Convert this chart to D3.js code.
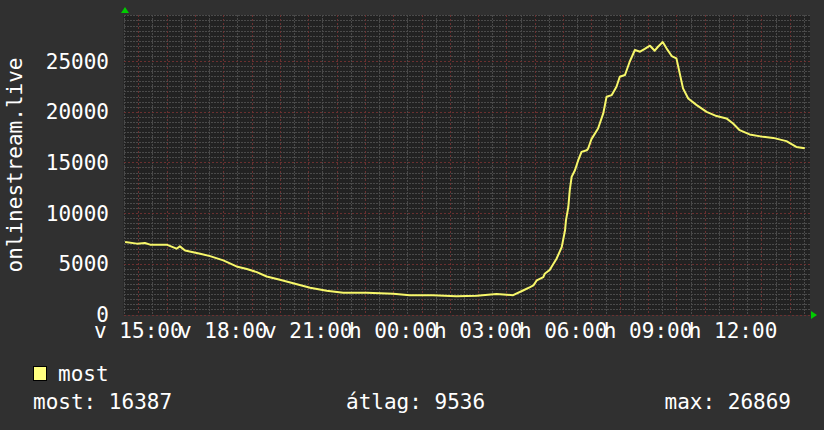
<!doctype html>
<html lang="hu">
  <head>
    <meta charset="utf-8">
    <title>onlinestream.live</title>
  </head>
  <style type="text/css">
  body {
    margin: 0;
    background-color: #303030;
  }
  svg text {
    font-family: "DejaVu Sans Mono", monospace;
    font-size: 21px;
    fill: #ffffff;
  }
</style>
  <body>
	<script src="https://d3js.org/d3.v7.min.js"></script>
	<script>

// sample times (Sunday afternoon -> Monday afternoon) and viewer counts
var times = ["14:32","14:57","15:14","15:25","16:00","16:21","16:28","16:39","17:11","17:32",
  "18:00","18:28","18:50","19:11","19:32","20:00","20:28","21:04","21:39","22:14",
  "23:04","00:00","00:35","01:24","02:14","02:57","03:39","04:14","04:35","04:50",
  "04:57","05:04","05:18","05:21","05:32","05:35","05:46","05:57","06:04","06:06",
  "06:11","06:14","06:18","06:25","06:32","06:39","06:50","06:53","07:00","07:14",
  "07:25","07:32","07:43","07:53","08:00","08:11","08:21","08:32","08:43","08:53",
  "09:04","09:14","09:21","09:31","09:39","09:50","10:00","10:07","10:14","10:25",
  "10:43","11:04","11:25","11:46","12:00","12:14","12:35","13:04","13:25","13:53",
  "14:14","14:32"];
var values = [7150,6990,7050,6890,6890,6490,6720,6320,6000,5760,
  5340,4740,4480,4180,3750,3430,3090,2640,2340,2140,
  2140,2040,1910,1910,1810,1840,2010,1910,2370,2700,
  2870,3360,3690,4020,4420,4670,5500,6650,8300,9290,
  10600,12250,13570,14230,15220,16040,16200,16370,17300,18350,
  19830,21470,21640,22460,23450,23620,24930,26090,25920,26190,
  26510,26020,26410,26869,26250,25490,25260,23780,22300,21310,
  20650,19990,19570,19340,18840,18180,17760,17520,17420,17100,
  16530,16387];

var yTickValues = [0, 5000, 10000, 15000, 20000, 25000];
var dayNames = ["v", "h", "k", "sze", "cs", "p", "szo"];
var seriesName = "most";
var statLabels = ["most: 16387", "átlag: 9536", "max: 26869"];

var w = 824;
var h = 430;
var plotL = 123.5, plotR = 810, plotT = 15, plotB = 315;

// turn the clock strings into dates, rolling over midnight
var day = 4, prevH = -1;
var data = times.map(function(t, i) {
  var p = t.split(":").map(Number);
  if (p[0] < prevH) day++;
  prevH = p[0];
  return { date: new Date(2024, 1, day, p[0], p[1]), value: values[i] };
});

var x = d3.scaleTime()
  .domain([new Date(2024, 1, 4, 14, 28, 36), new Date(2024, 1, 5, 14, 43)])
  .range([plotL, plotR]);

var y = d3.scaleLinear()
  .domain([0, 29540])
  .range([314.5, plotT]);

var svg = d3.select("body")
  .append("svg")
  .attr("width", w)
  .attr("height", h);

svg.append("rect")
  .attr("width", w).attr("height", h)
  .attr("fill", "#303030");

// plot background
svg.append("rect")
  .attr("x", plotL).attr("y", plotT)
  .attr("width", plotR - plotL).attr("height", plotB - plotT)
  .attr("fill", "#222222");

var grid = svg.append("g").attr("shape-rendering", "crispEdges");

// minor grid
grid.selectAll(".hmin")
  .data(d3.range(500, 29540, 500).filter(function(v) { return v % 5000; }))
  .enter().append("line")
  .attr("x1", plotL).attr("x2", plotR)
  .attr("y1", function(d) { return Math.round(y(d)) + 0.5; })
  .attr("y2", function(d) { return Math.round(y(d)) + 0.5; })
  .attr("stroke", "#4a4a4a").attr("stroke-dasharray", "2,1");

grid.selectAll(".vmin")
  .data(d3.timeMinute.every(30).range(x.domain()[0], x.domain()[1]).filter(function(d) { return d.getMinutes() == 30; }))
  .enter().append("line")
  .attr("y1", plotT).attr("y2", plotB)
  .attr("x1", function(d) { return Math.round(x(d)) + 0.5; })
  .attr("x2", function(d) { return Math.round(x(d)) + 0.5; })
  .attr("stroke", "#4a4a4a").attr("stroke-dasharray", "2,1");

// major grid
grid.selectAll(".hmaj")
  .data(yTickValues)
  .enter().append("line")
  .attr("x1", plotL).attr("x2", plotR)
  .attr("y1", function(d) { return Math.round(y(d)) + 0.5; })
  .attr("y2", function(d) { return Math.round(y(d)) + 0.5; })
  .attr("stroke", "#6a3030").attr("stroke-dasharray", "2,2");

grid.selectAll(".vmaj")
  .data(d3.timeHour.range(x.domain()[0], x.domain()[1]))
  .enter().append("line")
  .attr("y1", plotT).attr("y2", plotB)
  .attr("x1", function(d) { return Math.round(x(d)) + 0.5; })
  .attr("x2", function(d) { return Math.round(x(d)) + 0.5; })
  .attr("stroke", "#6a3030").attr("stroke-dasharray", "2,2");

// y labels
svg.selectAll(".ylab")
  .data(yTickValues)
  .enter().append("text")
  .attr("x", 109)
  .attr("y", function(d) { return y(d) + 7.5; })
  .attr("text-anchor", "end")
  .text(function(d) { return d; });

// x labels
var fmt = d3.timeFormat("%H:%M");
svg.selectAll(".xlab")
  .data(d3.timeHour.every(3).range(x.domain()[0], x.domain()[1]))
  .enter().append("text")
  .attr("x", function(d) { return x(d); })
  .attr("y", 338)
  .attr("text-anchor", "middle")
  .text(function(d) { return dayNames[d.getDay()] + " " + fmt(d); });

// vertical title
svg.append("text")
  .attr("transform", "translate(22,165) rotate(-90)")
  .attr("text-anchor", "middle")
  .text("onlinestream.live");

// the line
var line = d3.line()
  .x(function(d) { return x(d.date); })
  .y(function(d) { return y(d.value); });

svg.append("path")
  .datum(data)
  .attr("d", line)
  .attr("fill", "none")
  .attr("stroke", "#f7f76a")
  .attr("stroke-width", 2)
  .attr("stroke-linejoin", "round");

// arrows
svg.append("path")
  .attr("d", "M121,13L129,13L125,7Z")
  .attr("fill", "#00cc00");
svg.append("path")
  .attr("d", "M811,311L811,319L817,315Z")
  .attr("fill", "#00cc00");

// legend
svg.append("rect")
  .attr("x", 33.5).attr("y", 366.5)
  .attr("width", 13).attr("height", 14)
  .attr("fill", "#ffff80")
  .attr("stroke", "#000000");
svg.append("text")
  .attr("x", 58).attr("y", 381)
  .text(seriesName);

svg.append("text").attr("x", 33).attr("y", 409).text(statLabels[0]);
svg.append("text").attr("x", 346).attr("y", 409).text(statLabels[1]);
svg.append("text").attr("x", 791).attr("y", 409).attr("text-anchor", "end").text(statLabels[2]);

	</script>
  </body>
</html>
